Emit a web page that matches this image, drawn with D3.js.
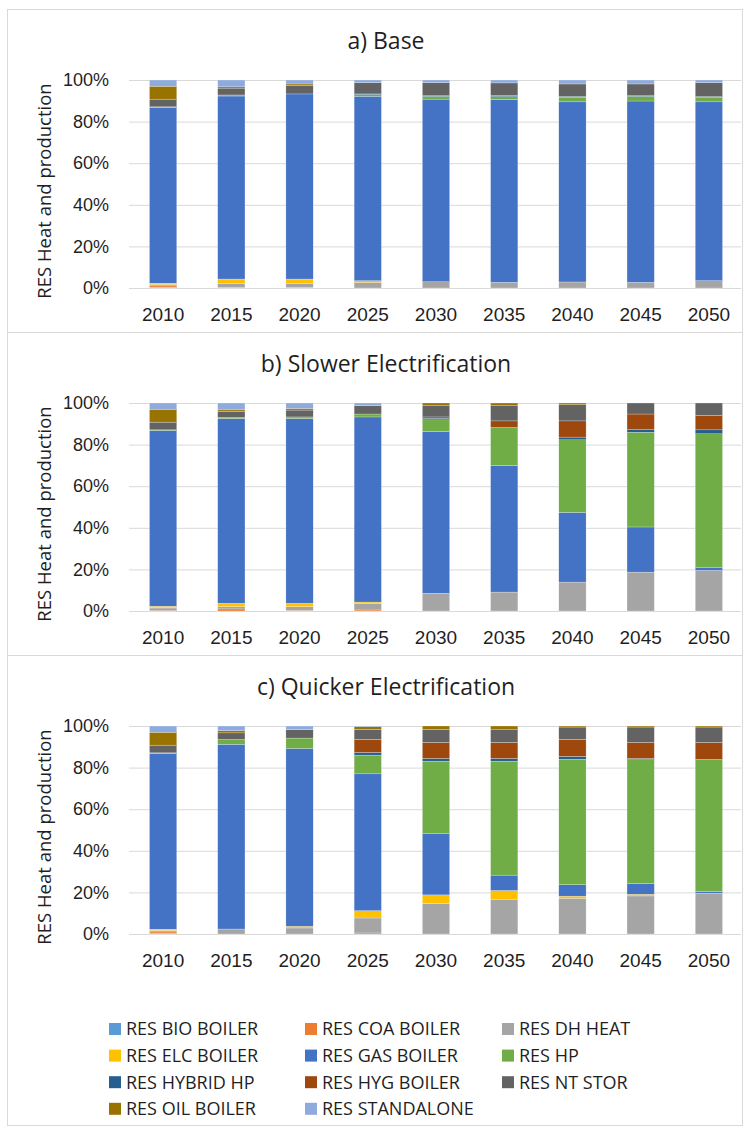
<!DOCTYPE html>
<meta charset="utf-8">
<title>RES Heat and production</title>
<style>
*{
  margin: 0;
  padding: 0;
}
body{
  background: #fff;
}
svg{
  display: block;
  font-family: "Open Sans", sans-serif;
}
.frame{
  fill: none;
  stroke: #d9d9d9;
}
.grid line{
  stroke: #d9d9d9;
}
.grid text{
  fill: #1f1f1f;
  font-size: 18px;
}
.years text{
  fill: #1f1f1f;
  font-size: 19px;
}
.panelTitle{
  fill: #1f1f1f;
  font-size: 23px;
}
.yTitle{
  fill: #1f1f1f;
  font-size: 18.5px;
}
.legend text{
  fill: #1f1f1f;
  font-size: 18px;
}
</style>
<body>
<script src="https://d3js.org/d3.v7.min.js"></script>

<div id="chart"></div>

<script>

var years = ["2010", "2015", "2020", "2025", "2030", "2035", "2040", "2045", "2050"];

// stacking order, bottom to top (also the legend order)
var seriesNames = ["RES BIO BOILER", "RES COA BOILER", "RES DH HEAT",
  "RES ELC BOILER", "RES GAS BOILER", "RES HP",
  "RES HYBRID HP", "RES HYG BOILER", "RES NT STOR",
  "RES OIL BOILER", "RES STANDALONE"];

var seriesColors = ["#5b9bd5", "#ed7d31", "#a5a5a5",
  "#ffc000", "#4472c4", "#70ad47",
  "#255e91", "#9e480e", "#636363",
  "#997300", "#8faadc"];

var panelTitles = ["a) Base", "b) Slower Electrification", "c) Quicker Electrification"];

var yTicks = [0, 20, 40, 60, 80, 100];

// shares in %, one row per series (same order as seriesNames), one value per year
var baseShares = [
  [0.3, 0,    0,    0,    0,    0,    0,    0,    0],
  [0.7, 0.3,  0.3,  0,    0,    0,    0,    0,    0],
  [0.7, 1.9,  1.9,  2.7,  3.0,  2.7,  2.9,  2.7,  3.5],
  [0.6, 2.1,  2.1,  0.8,  0,    0,    0,    0,    0],
  [84.5, 88.0, 89.0, 88.7, 87.8, 87.9, 86.6, 87.2, 86.0],
  [0.3, 0.5,  0,    0.8,  1.3,  1.4,  2.2,  2.2,  2.2],
  [0,   0,    0,    0.3,  0.6,  0.6,  0.4,  0.6,  0.3],
  [0,   0,    0,    0,    0,    0,    0,    0,    0],
  [3.7, 3.3,  4.0,  5.4,  6.0,  6.0,  6.0,  5.4,  6.7],
  [6.2, 0.6,  0.8,  0,    0,    0,    0,    0,    0],
  [3.0, 3.3,  1.9,  1.3,  1.3,  1.4,  1.9,  1.9,  1.3]
];

var slowerShares = [
  [0.3, 0,    0,    0,    0,    0,    0,    0,    0],
  [0.7, 1.0,  0.3,  0.5,  0,    0,    0,    0,    0],
  [0.7, 1.1,  1.8,  3.0,  8.5,  9.1,  13.9, 18.7, 19.5],
  [0.6, 1.6,  1.6,  0.8,  0,    0,    0,    0,    0],
  [84.5, 88.8, 88.8, 89.0, 77.8, 60.9, 33.5, 21.7, 1.3],
  [0.3, 0.5,  0.8,  1.4,  5.6,  18.2, 34.9, 45.5, 64.4],
  [0,   0,    0,    0,    0.8,  0,    1.3,  1.3,  1.9],
  [0,   0,    0,    0,    0.6,  3.2,  7.8,  7.5,  6.9],
  [3.7, 2.9,  3.3,  4.0,  5.4,  7.3,  7.8,  5.3,  6.0],
  [6.2, 0.8,  0.8,  0,    1.3,  1.3,  0.8,  0,    0],
  [3.0, 3.3,  2.6,  1.3,  0,    0,    0,    0,    0]
];

var quickerShares = [
  [0.3, 0,    0,    0,    0,    0,    0,    0,    0],
  [0.7, 0,    0,    0.5,  0,    0,    0,    0,    0],
  [0.7, 2.4,  2.9,  7.2,  14.6, 16.7, 17.2, 18.3, 19.6],
  [0.6, 0,    0.8,  3.5,  4.2,  4.2,  1.0,  0.8,  0],
  [84.5, 88.8, 85.5, 65.8, 29.4, 7.4,  5.5,  5.1,  0.8],
  [0.3, 2.3,  5.0,  9.0,  34.9, 54.8, 60.3, 59.6, 63.5],
  [0,   0,    0,    1.3,  1.3,  1.3,  1.4,  0.6,  0],
  [0,   0,    0,    6.3,  7.7,  7.7,  8.2,  7.7,  8.2],
  [3.7, 3.2,  4.0,  4.8,  6.3,  6.1,  5.9,  7.4,  7.4],
  [6.2, 1.0,  0,    1.3,  1.6,  1.8,  0.5,  0.5,  0.5],
  [3.0, 2.3,  1.8,  0.3,  0,    0,    0,    0,    0]
];

var panelShares = [baseShares, slowerShares, quickerShares];

var width = 748,
    height = 1130;

// each panel is its own excel chart, stacked on top of each other
var frameLeft = 7, frameRight = 742;
var panelTops = [9, 332, 655],
    panelBottoms = [332, 655, 1125];
var plotLeft = 129, plotRight = 743, gridRight = 741;
var titleX = 386, titleOffset = 32, plotOffset = 71, plotHeight = 208;

var svg = d3.select("#chart").append("svg")
    .attr("width", width)
    .attr("height", height);

var x = d3.scaleBand()
    .domain(years)
    .range([plotLeft, plotRight])
    .paddingInner(0.6)
    .paddingOuter(0.3);

var color = d3.scaleOrdinal()
    .domain(d3.range(seriesNames.length))
    .range(seriesColors);

var stack = d3.stack()
    .keys(d3.range(seriesNames.length))
    .value(function(d, k) { return d[k]; });

panelShares.forEach(function(shares, p) {
  var top = panelTops[p];
  var g = svg.append("g").attr("class", "panel");

  g.append("rect")
    .attr("class", "frame")
    .attr("x", frameLeft + 0.5)
    .attr("y", top + 0.5)
    .attr("width", frameRight - frameLeft)
    .attr("height", panelBottoms[p] - top);

  g.append("text")
    .attr("class", "panelTitle")
    .attr("x", titleX)
    .attr("y", top + titleOffset)
    .attr("dy", "0.35em")
    .attr("text-anchor", "middle")
    .text(panelTitles[p]);

  var y = d3.scaleLinear()
    .domain([0, 100])
    .range([top + plotOffset + plotHeight, top + plotOffset]);

  // gridlines + % labels
  g.append("g")
    .attr("class", "grid")
    .attr("transform", "translate(" + plotLeft + ",0)")
    .call(d3.axisLeft(y)
      .tickValues(yTicks)
      .tickSizeInner(-(gridRight - plotLeft))
      .tickSizeOuter(0)
      .tickPadding(20)
      .tickFormat(function(d) { return d + "%"; }))
    .call(function(a) { a.select(".domain").remove(); });

  g.append("text")
    .attr("class", "yTitle")
    .attr("transform", "translate(45," + (y(50) + 7) + ") rotate(-90)")
    .attr("dy", "0.35em")
    .attr("text-anchor", "middle")
    .text("RES Heat and production");

  // rows per year
  var rows = years.map(function(yr, i) {
    return shares.map(function(s) { return s[i]; });
  });

  g.append("g")
    .selectAll("g")
    .data(stack(rows))
    .join("g")
      .attr("fill", function(d) { return color(d.key); })
    .selectAll("rect")
    .data(function(d) { return d; })
    .join("rect")
      .attr("x", function(d, i) { return x(years[i]); })
      .attr("width", x.bandwidth())
      .attr("y", function(d) { return y(d[1]); })
      .attr("height", function(d) { return Math.max(0, y(d[0]) - y(d[1])); })
      .attr("stroke", "#fff")
      .attr("stroke-width", 0.4)
      .attr("stroke-opacity", 0.6);

  g.append("g")
    .attr("class", "years")
    .attr("transform", "translate(0," + y(0) + ")")
    .call(d3.axisBottom(x).tickSize(0).tickPadding(20))
    .call(function(a) { a.select(".domain").remove(); });
});

/* Legend */
var legendCols = [109, 305, 502],
    legendTop = 1029,
    legendRow = 26.6;

var legend = svg.append("g")
    .attr("class", "legend")
    .selectAll("g")
    .data(seriesNames)
    .join("g")
      .attr("transform", function(d, i) {
        return "translate(" + legendCols[i % 3] + "," + (legendTop + Math.floor(i / 3) * legendRow) + ")";
      });

legend.append("rect")
    .attr("x", 0)
    .attr("y", -6)
    .attr("width", 12)
    .attr("height", 12)
    .attr("fill", function(d, i) { return seriesColors[i]; });

legend.append("text")
    .attr("x", 17)
    .attr("dy", "0.35em")
    .text(function(d) { return d; });

</script>
</body>
